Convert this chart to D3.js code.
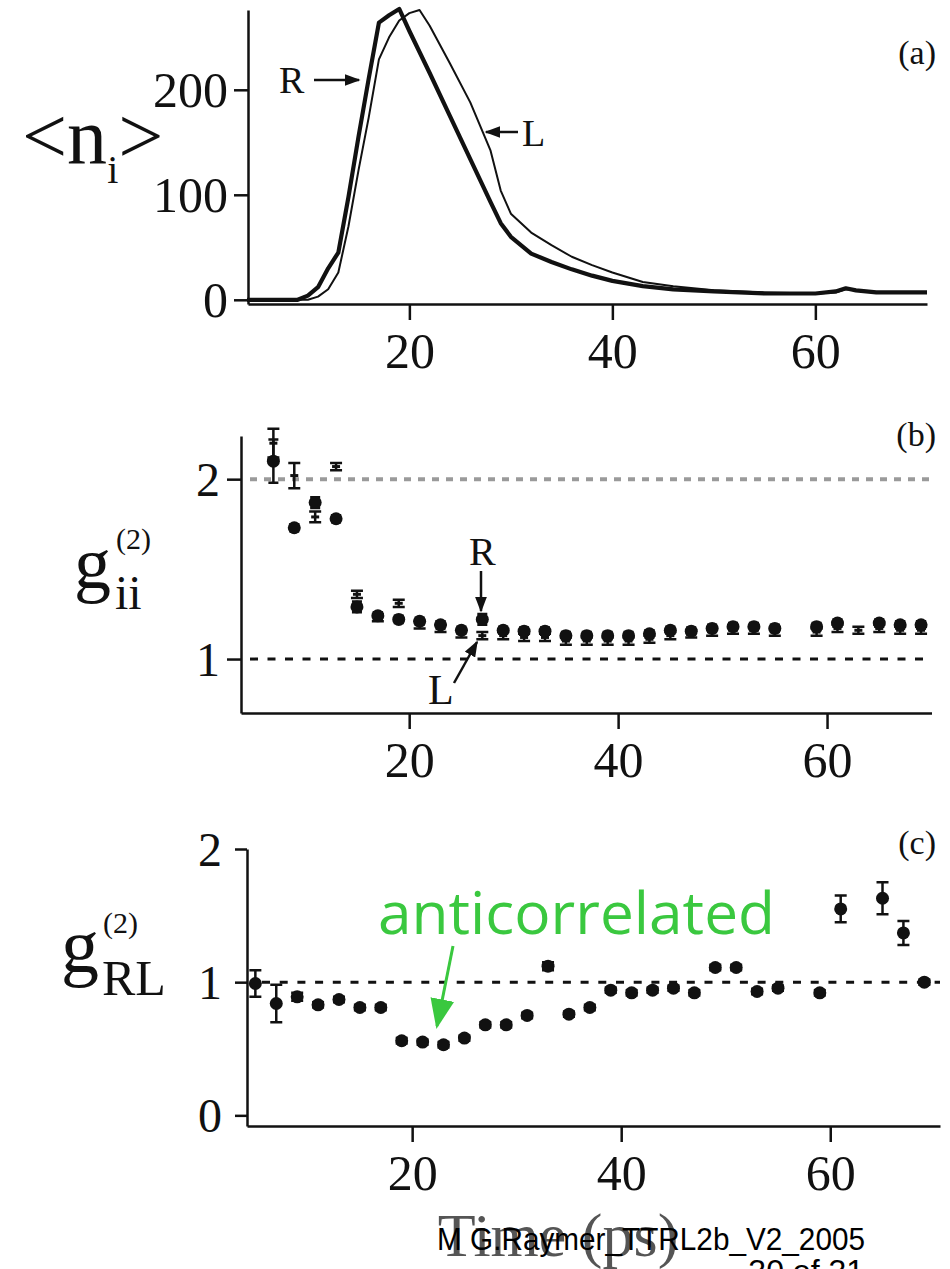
<!DOCTYPE html>
<html lang="en">
<head>
<meta charset="UTF-8">
<script src="https://cdn.jsdelivr.net/npm/d3@7"></script>
<style>
  body { margin: 0; background: #fff; }
  svg { display: block; }
</style>
</head>
<body>
<div id="fig"></div>
<script>
// panel (a): mean photon number vs time, R (thick) and L (thin)
const timeA  = [4, 9, 10, 11, 12, 13, 14, 15, 16, 17, 18, 19, 20, 21, 22, 24, 26, 28, 29, 30, 32, 34, 36, 38, 40, 43, 46, 50, 55, 60, 62, 63, 64, 66, 71];
const countR = [0, 0, 4, 12, 30, 45, 98, 156, 211, 264, 271, 277, 256, 236, 216, 175, 134, 93, 73, 60, 44, 36, 29, 23, 18, 13, 10, 8, 6, 6, 8, 11, 9, 7, 7];
const countL = [0, 0, 0, 3, 10, 26, 70, 124, 174, 229, 250, 266, 273, 276, 261, 225, 188, 142, 104, 82, 64, 52, 41, 33, 26, 17, 13, 9, 7, 6, 7, 10, 9, 7, 7];

// panel (b): g_ii autocorrelation, R (dots) and L (bars)
const timeB  = [7, 9, 11, 13, 15, 17, 19, 21, 23, 25, 27, 29, 31, 33, 35, 37, 39, 41, 43, 45, 47, 49, 51, 53, 55, 59, 61, 63, 65, 67, 69];
const gRR    = [2.10, 1.73, 1.87, 1.78, 1.29, 1.24, 1.22, 1.21, 1.19, 1.16, 1.22, 1.16, 1.155, 1.155, 1.13, 1.13, 1.13, 1.13, 1.14, 1.16, 1.155, 1.17, 1.18, 1.18, 1.17, 1.18, 1.20, null, 1.20, 1.19, 1.19];
const gRRerr = [0.12, 0.02, 0.03, 0.02, 0.03, 0.02, 0.02, 0.02, 0.02, 0.02, 0.03, 0.02, 0.02, 0.02, 0.02, 0.02, 0.02, 0.02, 0.02, 0.02, 0.02, 0.02, 0.02, 0.02, 0.02, 0.02, 0.02, 0.02, 0.02, 0.02, 0.02];
const gLL    = [2.20, 2.02, 1.79, 2.07, 1.36, 1.23, 1.31, 1.19, 1.17, 1.14, 1.13, 1.13, 1.12, 1.12, 1.10, 1.10, 1.10, 1.10, 1.11, 1.13, 1.14, 1.15, 1.16, 1.16, 1.15, 1.15, 1.17, 1.16, 1.17, 1.16, 1.16];
const gLLerr = [0.08, 0.07, 0.03, 0.02, 0.02, 0.02, 0.02, 0.02, 0.02, 0.02, 0.02, 0.02, 0.02, 0.02, 0.02, 0.02, 0.02, 0.02, 0.02, 0.02, 0.02, 0.02, 0.02, 0.02, 0.02, 0.02, 0.02, 0.02, 0.02, 0.02, 0.02];

// panel (c): g_RL cross correlation
const timeC  = [5, 7, 9, 11, 13, 15, 17, 19, 21, 23, 25, 27, 29, 31, 33, 35, 37, 39, 41, 43, 45, 47, 49, 51, 53, 55, 59, 61, 65, 67, 69];
const gRL    = [0.99, 0.84, 0.89, 0.83, 0.87, 0.81, 0.81, 0.56, 0.55, 0.53, 0.58, 0.68, 0.68, 0.75, 1.12, 0.76, 0.81, 0.94, 0.92, 0.94, 0.955, 0.92, 1.11, 1.11, 0.93, 0.955, 0.92, 1.55, 1.63, 1.37, 1.00];
const gRLerr = [0.10, 0.14, 0.03, 0.02, 0.02, 0.02, 0.02, 0.02, 0.02, 0.02, 0.02, 0.02, 0.02, 0.02, 0.03, 0.02, 0.02, 0.02, 0.02, 0.02, 0.02, 0.02, 0.02, 0.02, 0.02, 0.02, 0.02, 0.10, 0.12, 0.09, 0.02];

const xTicks = [20, 40, 60];

const width = 950, height = 1269;
const serif = "'Liberation Serif', 'Times New Roman', serif";
const ink = "#111";
const green = "#3ac83f";

const svg = d3.select("#fig").append("svg")
    .attr("width", width)
    .attr("height", height);
svg.append("rect").attr("width", width).attr("height", height).attr("fill", "#fff");

// arrow heads: id, colour, length, width
svg.append("defs").selectAll("marker")
    .data([["headK", ink, 16, 12], ["headG", green, 30, 24]])
    .join("marker")
    .attr("id", d => d[0])
    .attr("viewBox", "0 0 10 10")
    .attr("refX", 9).attr("refY", 5)
    .attr("markerWidth", d => d[2]).attr("markerHeight", d => d[3])
    .attr("markerUnits", "userSpaceOnUse")
    .attr("preserveAspectRatio", "none")
    .attr("orient", "auto")
    .append("path").attr("d", "M0,0 L10,5 L0,10 z").attr("fill", d => d[1]);

function styleAxis(g, fs) {
    g.select(".domain").attr("stroke", ink).attr("stroke-width", 2.5);
    g.selectAll(".tick line").attr("stroke", ink).attr("stroke-width", 2.5);
    g.selectAll(".tick text")
        .attr("fill", ink)
        .style("font-family", serif)
        .style("font-size", fs + "px");
}

function drawAxes(x, y, yTicks, opt) {
    const gx = svg.append("g")
        .attr("transform", `translate(0,${y.range()[0]})`)
        .call(d3.axisBottom(x).tickValues(xTicks).tickFormat(d3.format("d")).tickSize(16).tickSizeOuter(0));
    styleAxis(gx, 50);
    gx.selectAll(".tick text").attr("dy", null).attr("y", 64);

    const gy = svg.append("g")
        .attr("transform", `translate(${x.range()[0]},0)`)
        .call(d3.axisLeft(y).tickValues(yTicks).tickFormat(d3.format("d"))
            .tickSize(opt.tick).tickPadding(opt.pad).tickSizeOuter(0));
    styleAxis(gy, opt.fs);
    gy.selectAll(".tick text").attr("dy", "0.34em");
}

function panelTag(txt, yb) {
    svg.append("text").attr("x", 936).attr("y", yb)
        .attr("text-anchor", "end")
        .style("font-family", serif).style("font-size", "34px")
        .attr("fill", ink).text(txt);
}

function arrow(x1, y1, x2, y2, w, head, col) {
    svg.append("line")
        .attr("x1", x1).attr("y1", y1).attr("x2", x2).attr("y2", y2)
        .attr("stroke", col || ink).attr("stroke-width", w)
        .attr("marker-end", `url(#${head || "headK"})`);
}

// ---------- (a) ----------
const xA = d3.scaleLinear().domain([4.1, 71]).range([248, 927]);
const yA = d3.scaleLinear().domain([-4, 276]).range([304, 10]);
drawAxes(xA, yA, [0, 100, 200], {tick: 14, pad: 6, fs: 50});

const lineA = d3.line().x((d, i) => xA(timeA[i])).y(d => yA(d)).curve(d3.curveLinear);
svg.append("path").attr("d", lineA(countL))
    .attr("fill", "none").attr("stroke", ink).attr("stroke-width", 2).attr("stroke-linejoin", "round");
svg.append("path").attr("d", lineA(countR))
    .attr("fill", "none").attr("stroke", ink).attr("stroke-width", 4.2).attr("stroke-linejoin", "round");

// <n_i>
const nLab = svg.append("text").attr("x", 22).attr("y", 163)
    .style("font-family", serif).style("font-size", "80px").attr("fill", ink);
nLab.append("tspan").text("<n");
nLab.append("tspan").attr("dy", 20).style("font-size", "40px").text("i");
nLab.append("tspan").attr("dy", -20).text(">");

svg.append("text").attr("x", 279).attr("y", 93)
    .style("font-family", serif).style("font-size", "38px").attr("fill", ink).text("R");
arrow(314, 80, 359, 80, 2.5);
svg.append("text").attr("x", 522).attr("y", 146)
    .style("font-family", serif).style("font-size", "38px").attr("fill", ink).text("L");
arrow(518, 132, 486, 132, 2.5);
panelTag("(a)", 64);

// ---------- (b) ----------
const xB = d3.scaleLinear().domain([3.9, 70]).range([241, 931.5]);
const yB = d3.scaleLinear().domain([0.7, 2.24]).range([713, 436]);
drawAxes(xB, yB, [1, 2], {tick: 14, pad: 7, fs: 48});

svg.append("line").attr("x1", 250).attr("x2", 932).attr("y1", yB(2)).attr("y2", yB(2))
    .attr("stroke", "#9a9a9a").attr("stroke-width", 4).attr("stroke-dasharray", "7 7");
svg.append("line").attr("x1", 250).attr("x2", 932).attr("y1", yB(1)).attr("y2", yB(1))
    .attr("stroke", ink).attr("stroke-width", 3).attr("stroke-dasharray", "8 9.5");

function errBars(x, y, t, v, e, cap) {
    const d = t.map((tt, i) => ({t: tt, v: v[i], e: e[i]})).filter(d => d.v != null);
    const g = svg.append("g").attr("stroke", ink).attr("stroke-width", 2.5);
    g.selectAll(".eb").data(d).join("path")
        .attr("d", d => {
            const cx = x(d.t), y1 = y(d.v + d.e), y2 = y(d.v - d.e);
            return `M${cx},${y1}V${y2}M${cx - cap},${y1}H${cx + cap}M${cx - cap},${y2}H${cx + cap}`;
        })
        .attr("fill", "none");
    return d;
}

// L: bars with small center dash
const dL = errBars(xB, yB, timeB, gLL, gLLerr, 6);
svg.append("g").selectAll("line").data(dL).join("line")
    .attr("x1", d => xB(d.t) - 4).attr("x2", d => xB(d.t) + 4)
    .attr("y1", d => yB(d.v)).attr("y2", d => yB(d.v))
    .attr("stroke", ink).attr("stroke-width", 3);
// R: dots with bars
const dR = errBars(xB, yB, timeB, gRR, gRRerr, 5);
svg.append("g").selectAll("circle").data(dR).join("circle")
    .attr("cx", d => xB(d.t)).attr("cy", d => yB(d.v)).attr("r", 6.5).attr("fill", ink);

// g_ii^(2)
svg.append("text").attr("x", 74).attr("y", 588)
    .style("font-family", serif).style("font-size", "74px").attr("fill", ink).text("g");
svg.append("text").attr("x", 115).attr("y", 609)
    .style("font-family", serif).style("font-size", "48px").attr("fill", ink).text("ii");
svg.append("text").attr("x", 116).attr("y", 549)
    .style("font-family", serif).style("font-size", "30px").attr("fill", ink).text("(2)");

svg.append("text").attr("x", 469).attr("y", 565)
    .style("font-family", serif).style("font-size", "40px").attr("fill", ink).text("R");
arrow(481, 571, 481, 611, 2.5);
svg.append("text").attr("x", 428).attr("y", 704)
    .style("font-family", serif).style("font-size", "42px").attr("fill", ink).text("L");
arrow(454, 683, 477, 642, 2.5);
panelTag("(b)", 446);

// ---------- (c) ----------
const xC = d3.scaleLinear().domain([4.2, 70.5]).range([247, 940]);
const yC = d3.scaleLinear().domain([-0.08, 2]).range([1126, 849]);
drawAxes(xC, yC, [0, 1, 2], {tick: 12, pad: 13, fs: 48});

svg.append("line").attr("x1", 262).attr("x2", 940).attr("y1", yC(1)).attr("y2", yC(1))
    .attr("stroke", ink).attr("stroke-width", 3).attr("stroke-dasharray", "8 9.7");

const dC = errBars(xC, yC, timeC, gRL, gRLerr, 6);
svg.append("g").selectAll("circle").data(dC).join("circle")
    .attr("cx", d => xC(d.t)).attr("cy", d => yC(d.v)).attr("r", 6.5).attr("fill", ink);

// g_RL^(2)
svg.append("text").attr("x", 61).attr("y", 972)
    .style("font-family", serif).style("font-size", "76px").attr("fill", ink).text("g");
svg.append("text").attr("x", 102).attr("y", 995)
    .style("font-family", serif).style("font-size", "50px").attr("fill", ink).text("RL");
svg.append("text").attr("x", 103).attr("y", 933)
    .style("font-family", serif).style("font-size", "30px").attr("fill", ink).text("(2)");
panelTag("(c)", 854);

// green annotation
svg.append("text").attr("x", 378).attr("y", 934)
    .attr("textLength", 397).attr("lengthAdjust", "spacingAndGlyphs")
    .style("font-family", "'Open Sans', 'Noto Sans', sans-serif").style("font-size", "58px")
    .attr("fill", green).text("anticorrelated");
arrow(453, 946, 437, 1026, 3, "headG", green);

// x title and slide footer
svg.append("text").attr("x", 558).attr("y", 1256)
    .attr("text-anchor", "middle")
    .style("font-family", serif).style("font-size", "62px")
    .attr("fill", "#555").text("Time (ps)");
svg.append("text").attr("x", 437).attr("y", 1250)
    .attr("textLength", 428).attr("lengthAdjust", "spacingAndGlyphs")
    .style("font-family", "'Liberation Sans', Arial, sans-serif").style("font-size", "32px")
    .attr("fill", "#000").text("M G.Raymer_TTRL2b_V2_2005");
svg.append("text").attr("x", 864).attr("y", 1282)
    .attr("text-anchor", "end")
    .style("font-family", "'Liberation Sans', Arial, sans-serif").style("font-size", "32px")
    .attr("fill", "#000").text("30 of 31");
</script>
</body>
</html>
